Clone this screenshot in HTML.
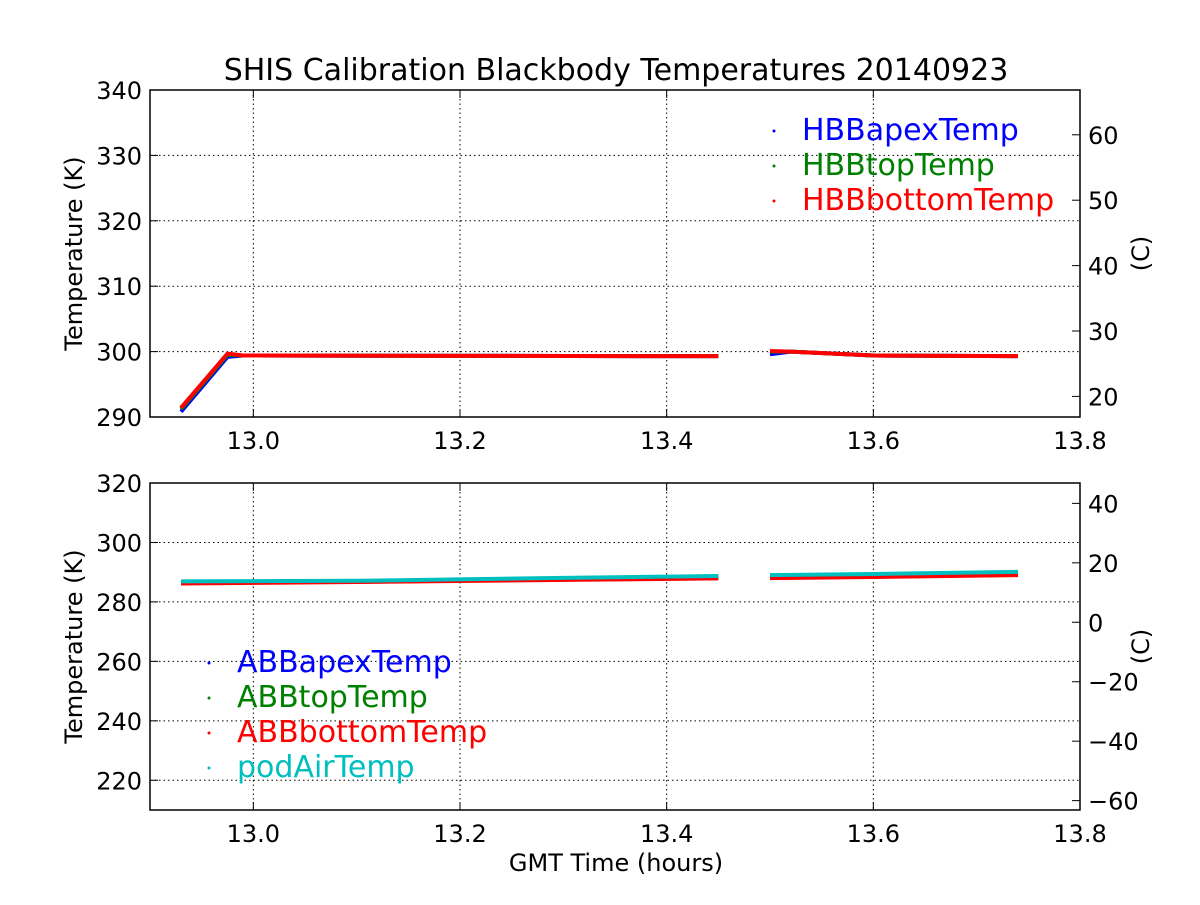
<!DOCTYPE html>
<html><head><meta charset="utf-8">
<style>
body{margin:0;background:#fff;}
svg text{font-family:"DejaVu Sans","Liberation Sans",sans-serif;}
</style></head>
<body>
<svg id="chart" width="1200" height="900" xmlns="http://www.w3.org/2000/svg">
<rect width="1200" height="900" fill="#fff"/>
<text x="616" y="80" font-size="30" text-anchor="middle">SHIS Calibration Blackbody Temperatures 20140923</text>
<g id="top"></g>
<g id="bot"></g>
<text x="616" y="871" font-size="24" text-anchor="middle">GMT Time (hours)</text>
</svg>
<script>
const xTicks=[13.0,13.2,13.4,13.6,13.8];
const topYTicks=[290,300,310,320,330,340];
const topCTicks=[20,30,40,50,60];
const botYTicks=[220,240,260,280,300,320];
const botCTicks=[-60,-40,-20,0,20,40];
const seg1T=[12.93,12.975,12.99,13.45];
const seg2T=[13.50,13.52,13.60,13.74];
const hbbApex1=[290.8,299.2,299.4,299.3];
const hbbApex2=[299.6,300.0,299.4,299.3];
const hbbTop1=[291.2,299.5,299.4,299.3];
const hbbTop2=[300.0,300.0,299.4,299.3];
const hbbBot1=[291.4,299.7,299.4,299.3];
const hbbBot2=[300.1,300.0,299.4,299.3];
const botT1=[12.93,13.1,13.3,13.45];
const botT2=[13.50,13.6,13.74];
const abbApex1=[286.6,286.9,287.6,288.1];
const abbApex2=[288.2,288.6,289.2];
const abbTop1=[286.4,286.8,287.5,288.0];
const abbTop2=[288.1,288.5,289.1];
const abbBot1=[286.2,286.7,287.4,287.9];
const abbBot2=[288.0,288.4,289.0];
const pod1=[286.9,287.1,288.1,288.7];
const pod2=[289.0,289.4,290.1];
const NS="http://www.w3.org/2000/svg";
const X0=150,X1=1080;
const xs=t=>X0+(t-12.9)/(0.9)*(X1-X0);
function el(p,tag,a,txt){const e=document.createElementNS(NS,tag);for(const k in a)e.setAttribute(k,a[k]);if(txt!==undefined)e.textContent=txt;p.appendChild(e);return e;}
function panel(g,top,bot,ymin,ymax,yT,cT,name){
  const ys=v=>bot-(v-ymin)/(ymax-ymin)*(bot-top);
  const grid=el(g,'g',{});
  
  
  xTicks.forEach(t=>{const x=xs(t);
    if(t<13.8)el(grid,'line',{x1:x,x2:x,y1:top,y2:bot,stroke:'#000','stroke-dasharray':'1.5,3','stroke-width':1});
    el(g,'line',{x1:x,x2:x,y1:bot,y2:bot-8,stroke:'#000'});el(g,'line',{x1:x,x2:x,y1:top,y2:top+8,stroke:'#000'});
    const l=el(g,'text',{x:x,y:bot+32,'font-size':24,'text-anchor':'middle'},t.toFixed(1));
    
    });
  yT.forEach(v=>{const y=ys(v);
    if(v>ymin&&v<ymax)el(grid,'line',{x1:X0,x2:X1,y1:y,y2:y,stroke:'#000','stroke-dasharray':'1.5,3'});
    el(g,'line',{x1:X0,x2:X0+8,y1:y,y2:y,stroke:'#000'});
    const l=el(g,'text',{x:X0-8,y:y+9,'font-size':24,'text-anchor':'end'},String(v));
    
    });
  cT.forEach(c=>{const y=ys(c+273.15);
    el(g,'line',{x1:X1,x2:X1-8,y1:y,y2:y,stroke:'#000'});
    const l=el(g,'text',{x:X1+8,y:y+9,'font-size':24},c<0?'\u2212'+(-c):String(c));
    
    });
  const yl=el(g,'text',{transform:`translate(82,${(top+bot)/2}) rotate(-90)`,'font-size':24,'text-anchor':'middle'},'Temperature (K)');
  
  
  const cl=el(g,'text',{transform:`translate(1149,${(top+bot)/2}) rotate(-90)`,'font-size':24,'text-anchor':'middle'},'(C)');
  
  
  return ys;
}
function series(g,ys,T,V,color,name){
  const p=el(g,'polyline',{points:T.map((t,i)=>xs(t)+','+ys(V[i])).join(' '),fill:'none',stroke:color,'stroke-width':4});
  
  
}
function frame(g,top,bot){el(g,'rect',{x:X0,y:top,width:X1-X0,height:bot-top,fill:'none',stroke:'#000','stroke-width':1.5});}
function legend(g,x,y,items){items.forEach((it,i)=>{const yy=y+i*35;
  el(g,'circle',{cx:x,cy:yy-9,r:1.5,fill:it[1]});
  const t=el(g,'text',{x:x+28,y:yy,'font-size':30,fill:it[1]},it[0]);
  
  });}
const gt=document.getElementById('top');
const ysT=panel(gt,90,417,290,340,topYTicks,topCTicks,'top');
series(gt,ysT,seg1T,hbbApex1,'#00f','hbb-apex-series');series(gt,ysT,seg2T,hbbApex2,'#00f','hbb-apex-series');
series(gt,ysT,seg1T,hbbTop1,'#008000','hbb-top-series');series(gt,ysT,seg2T,hbbTop2,'#008000','hbb-top-series');
series(gt,ysT,seg1T,hbbBot1,'#f00','hbb-bottom-series');series(gt,ysT,seg2T,hbbBot2,'#f00','hbb-bottom-series');
frame(gt,90,417);
legend(gt,774,140,[['HBBapexTemp','#00f'],['HBBtopTemp','#008000'],['HBBbottomTemp','#f00']]);
const gb=document.getElementById('bot');
const ysB=panel(gb,483,810,210,320,botYTicks,botCTicks,'bottom');
series(gb,ysB,botT1,abbApex1,'#00f','abb-apex-series');series(gb,ysB,botT2,abbApex2,'#00f','abb-apex-series');
series(gb,ysB,botT1,abbTop1,'#008000','abb-top-series');series(gb,ysB,botT2,abbTop2,'#008000','abb-top-series');
series(gb,ysB,botT1,abbBot1,'#f00','abb-bottom-series');series(gb,ysB,botT2,abbBot2,'#f00','abb-bottom-series');
series(gb,ysB,botT1,pod1,'#00bfbf','pod-air-series');series(gb,ysB,botT2,pod2,'#00bfbf','pod-air-series');
frame(gb,483,810);
legend(gb,209,672,[['ABBapexTemp','#00f'],['ABBtopTemp','#008000'],['ABBbottomTemp','#f00'],['podAirTemp','#00bfbf']]);
</script>
</body></html>
